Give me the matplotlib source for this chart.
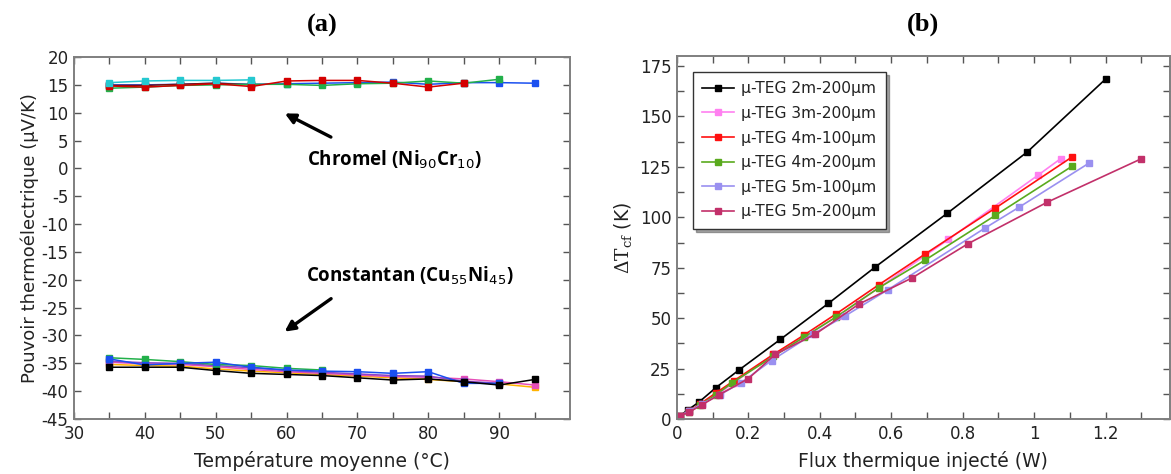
import numpy as np
import matplotlib
matplotlib.use('Agg')
from matplotlib import pyplot as plt

plt.rcParams['axes.unicode_minus'] = False

# ---- panel (a): Seebeck coefficient vs mean temperature ----
temp_full = [35, 40, 45, 50, 55, 60, 65, 70, 75, 80, 85, 90, 95]

# Chromel (Ni90Cr10)
chr_cyan_t = [35, 40, 45, 50, 55]
chr_cyan = [15.4, 15.7, 15.8, 15.8, 15.9]
chr_darkred_t = [35, 40, 45, 50, 55]
chr_darkred = [14.9, 14.9, 15.1, 15.3, 15.0]
chr_blue_t = [35, 40, 45, 50, 55, 60, 65, 70, 75, 80, 85, 90, 95]
chr_blue = [15.0, 15.0, 15.1, 15.3, 15.1, 15.2, 15.3, 15.4, 15.5, 15.1, 15.4, 15.4, 15.3]
chr_green_t = [35, 40, 45, 50, 55, 60, 65, 70, 75, 80, 85, 90]
chr_green = [14.4, 14.6, 14.9, 15.0, 15.1, 15.1, 14.9, 15.2, 15.3, 15.7, 15.3, 16.0]
chr_red_t = [35, 40, 45, 50, 55, 60, 65, 70, 75, 80, 85]
chr_red = [14.8, 14.6, 14.9, 15.2, 14.7, 15.7, 15.8, 15.8, 15.3, 14.6, 15.3]

# Constantan (Cu55Ni45)
con_green_t = [35, 40, 45, 50, 55, 60, 65]
con_green = [-34.0, -34.3, -34.7, -35.2, -35.4, -35.9, -36.2]
con_purple_t = temp_full[:-1]
con_purple = [-34.6, -34.9, -35.0, -35.4, -35.8, -36.3, -36.6, -36.9, -37.2, -37.3, -38.2, -38.6]
con_magenta_t = temp_full
con_magenta = [-34.8, -35.1, -35.2, -35.6, -36.1, -36.5, -36.8, -37.1, -37.4, -37.5, -37.8, -38.3, -38.9]
con_orange_t = temp_full
con_orange = [-35.2, -35.4, -35.5, -36.0, -36.4, -36.7, -37.0, -37.3, -37.6, -37.9, -38.3, -38.7, -39.3]
con_blue_t = temp_full[:-1]
con_blue = [-34.2, -35.3, -35.0, -34.8, -35.7, -36.2, -36.4, -36.5, -36.8, -36.5, -38.6, -38.6]
con_black_t = temp_full
con_black = [-35.7, -35.7, -35.7, -36.3, -36.8, -37.0, -37.2, -37.6, -38.0, -37.8, -38.3, -38.9, -37.9]

# ---- panel (b): temperature difference vs injected heat flux ----
teg_labels = ['µ-TEG 2m-200µm', 'µ-TEG 3m-200µm', 'µ-TEG 4m-100µm',
              'µ-TEG 4m-200µm', 'µ-TEG 5m-100µm', 'µ-TEG 5m-200µm']
teg_2m200_x = [0.008, 0.031, 0.062, 0.109, 0.174, 0.29, 0.424, 0.555, 0.757, 0.981, 1.2]
teg_2m200_y = [1.5, 4.5, 8.4, 15.5, 24.3, 39.5, 57.3, 75.3, 102, 132.4, 168.5]
teg_3m200_x = [0.008, 0.035, 0.07, 0.12, 0.16, 0.27, 0.36, 0.45, 0.565, 0.76, 1.012, 1.074]
teg_3m200_y = [1.5, 4, 7.5, 13, 18, 32, 41, 51, 65, 89, 121, 129]
teg_4m100_x = [0.008, 0.035, 0.065, 0.11, 0.16, 0.27, 0.355, 0.445, 0.565, 0.695, 0.892, 1.107]
teg_4m100_y = [1.5, 4, 7.5, 13, 19, 32, 41.5, 52, 66.5, 81.8, 104.6, 130]
teg_4m200_x = [0.008, 0.035, 0.065, 0.11, 0.155, 0.27, 0.355, 0.445, 0.565, 0.695, 0.892, 1.107]
teg_4m200_y = [1.5, 3.5, 7, 12, 18, 31, 40.5, 50.5, 65, 78.8, 101, 125.4]
teg_5m100_x = [0.008, 0.035, 0.07, 0.12, 0.18, 0.265, 0.38, 0.47, 0.59, 0.863, 0.958, 1.155]
teg_5m100_y = [1.5, 4, 7.5, 12, 18, 29, 42, 51, 64, 94.7, 105, 127]
teg_5m200_x = [0.008, 0.035, 0.07, 0.118, 0.2, 0.275, 0.387, 0.51, 0.659, 0.816, 1.037, 1.30]
teg_5m200_y = [1.5, 3.5, 7, 12, 20, 32, 42, 57, 70, 87, 107.5, 129]


def style_axes(ax):
    for sp in ax.spines.values():
        sp.set_color('#7f7f7f')
        sp.set_linewidth(1.4)
    ax.tick_params(direction='in', top=True, right=True, length=5, width=1.0,
                   color='#555555', labelsize=12, labelcolor='#222222', pad=4)


fig = plt.figure(figsize=(11.71, 4.74), dpi=100)

# ---------------- (a) ----------------
ax = fig.add_axes([0.0632, 0.116, 0.4236, 0.7637])
mk = dict(marker='s', markersize=5, linewidth=1.1)

ax.plot(chr_blue_t, chr_blue, color='#1a4ff0', **mk)
ax.plot(chr_darkred_t, chr_darkred, color='#7a1010', **mk)
ax.plot(chr_green_t, chr_green, color='#22b04a', **mk)
ax.plot(chr_red_t, chr_red, color='#d40000', **mk)
ax.plot(chr_cyan_t, chr_cyan, color='#25c8d0', **mk)

ax.plot(con_orange_t, con_orange, color='#ffb300', **mk)
ax.plot(con_magenta_t, con_magenta, color='#e64fb8', **mk)
ax.plot(con_purple_t, con_purple, color='#8a45c8', **mk)
ax.plot(con_green_t, con_green, color='#22b04a', **mk)
ax.plot(con_blue_t, con_blue, color='#1a4ff0', **mk)
ax.plot(con_black_t, con_black, color='black', **mk)

ax.set_xlim(30, 100)
ax.set_ylim(-45, 20)
xt = np.arange(30, 100, 5)
ax.set_xticks(xt)
ax.set_xticklabels([str(v) if v % 10 == 0 else '' for v in xt])
ax.set_yticks(np.arange(-45, 21, 5))
style_axes(ax)
ax.set_xlabel('Température moyenne (°C)', fontsize=13.5, color='#222222', labelpad=6)
ax.set_ylabel('Pouvoir thermoélectrique (µV/K)', fontsize=13, color='#222222', labelpad=2)
ax.set_title('(a)', fontsize=19, fontweight='bold', family='Liberation Serif', pad=18)

ax.annotate('', xy=(59.4, 10.1), xytext=(66.6, 5.4),
            arrowprops=dict(arrowstyle='-|>', color='black', lw=2.4, mutation_scale=15))
ax.text(62.9, 1.6, r'Chromel (Ni$_{90}$Cr$_{10}$)', fontsize=13.5, fontweight='bold',
        family='Open Sans', va='center', ha='left')
ax.annotate('', xy=(59.4, -29.6), xytext=(66.6, -23.1),
            arrowprops=dict(arrowstyle='-|>', color='black', lw=2.4, mutation_scale=15))
ax.text(62.8, -19.3, r'Constantan (Cu$_{55}$Ni$_{45}$)', fontsize=13.5, fontweight='bold',
        family='Open Sans', va='center', ha='left')

# ---------------- (b) ----------------
bx = fig.add_axes([0.578, 0.116, 0.421, 0.766])
teg_x = [teg_2m200_x, teg_3m200_x, teg_4m100_x, teg_4m200_x, teg_5m100_x, teg_5m200_x]
teg_y = [teg_2m200_y, teg_3m200_y, teg_4m100_y, teg_4m200_y, teg_5m100_y, teg_5m200_y]
teg_colors = ['black', '#ff80f0', '#ff1010', '#5aaa1e', '#9a90f0', '#c2306a']
for xs, ys, lab, c in zip(teg_x, teg_y, teg_labels, teg_colors):
    bx.plot(xs, ys, color=c, marker='s', markersize=5, linewidth=1.2, label=lab)

bx.set_xlim(0, 1.38)
bx.set_ylim(0, 180)
bxt = np.round(np.arange(0, 1.35, 0.1), 1)
bx.set_xticks(bxt)
lbl = {0.0: '0', 0.2: '0.2', 0.4: '0.4', 0.6: '0.6', 0.8: '0.8', 1.0: '1', 1.2: '1.2'}
bx.set_xticklabels([lbl.get(v, '') for v in bxt])
byt = np.arange(0, 180, 12.5)
bx.set_yticks(byt)
bx.set_yticklabels([str(int(v)) if v % 25 == 0 else '' for v in byt])
style_axes(bx)
bx.set_xlabel('Flux thermique injecté (W)', fontsize=13.5, color='#222222', labelpad=6)
ylab = bx.set_ylabel(r'$\Delta\mathrm{T}_{\mathrm{cf}}$ (K)', fontsize=13.5, color='#222222',
                     labelpad=4)
ylab.set_math_fontfamily('dejavuserif')
bx.set_title('(b)', fontsize=19, fontweight='bold', family='Liberation Serif', pad=18)

leg = bx.legend(loc='upper left', bbox_to_anchor=(0.033, 0.956), borderaxespad=0,
                fontsize=11.2, frameon=True, fancybox=False, shadow=True,
                handlelength=2.0, handletextpad=0.5, borderpad=0.6, labelspacing=0.62)
leg.get_frame().set_edgecolor('#333333')
leg.get_frame().set_linewidth(1.0)
for t in leg.get_texts():
    t.set_color('#222222')

fig.savefig('out.png', dpi=100)
